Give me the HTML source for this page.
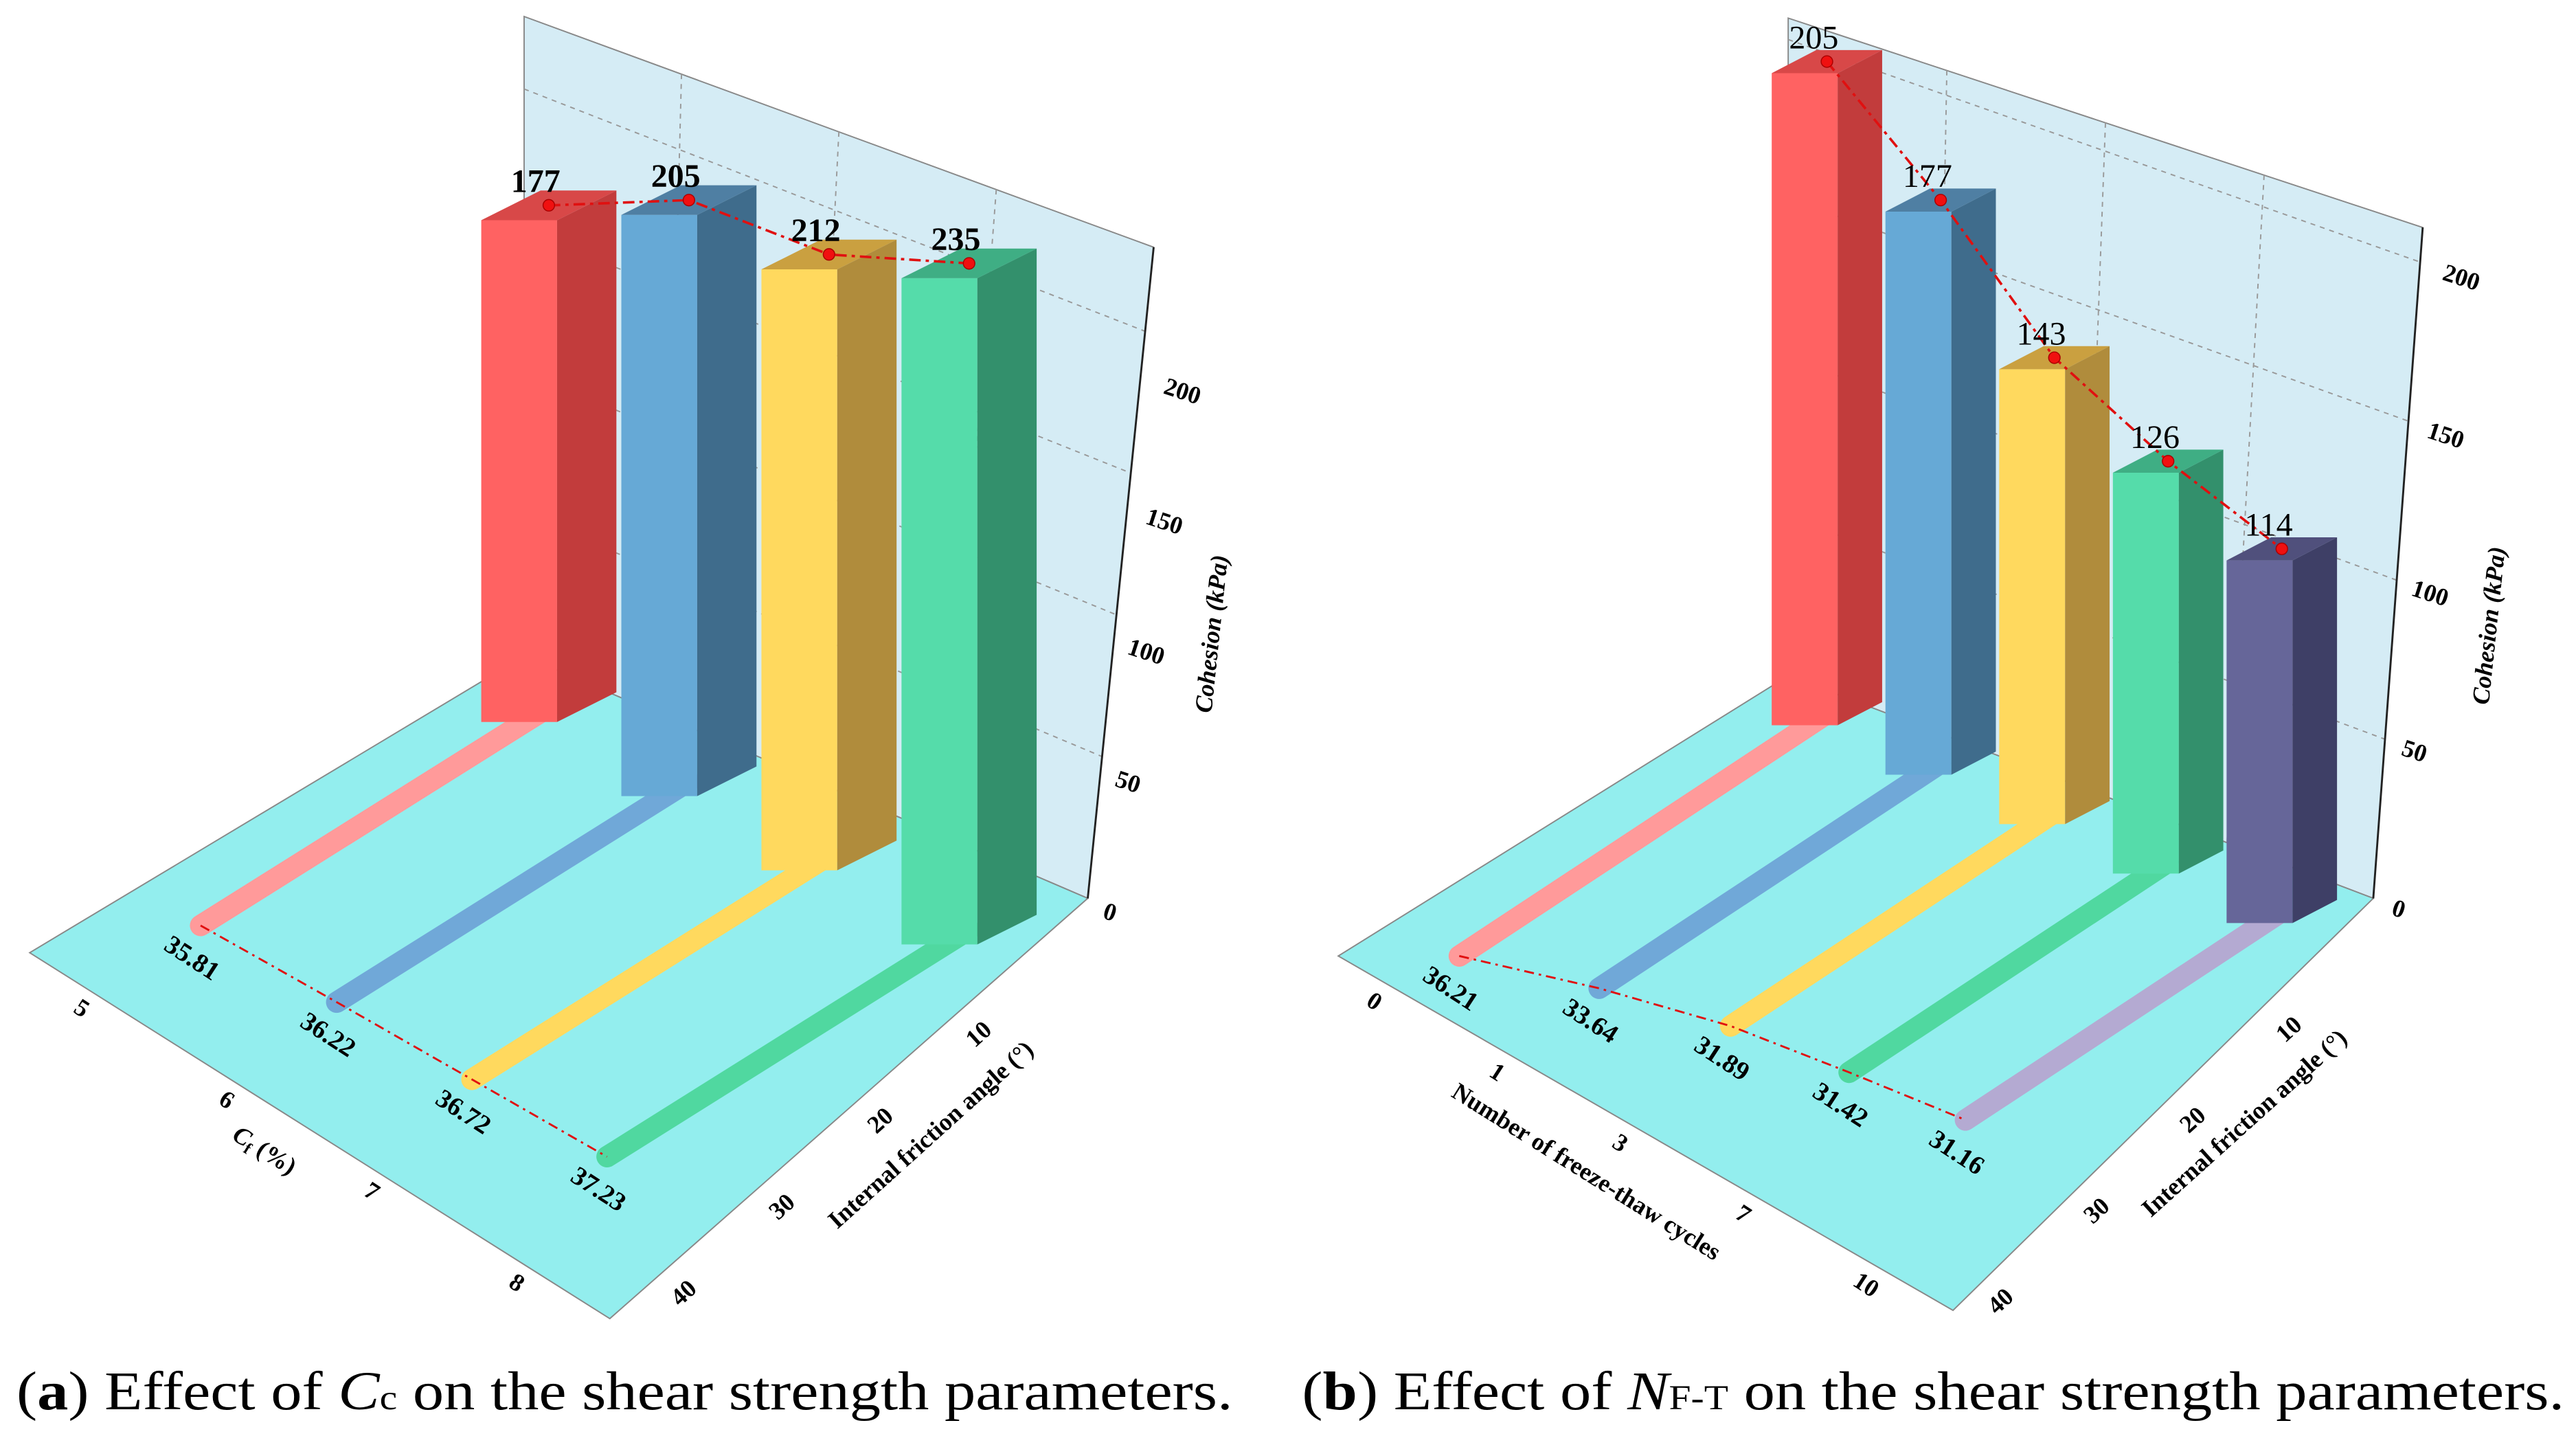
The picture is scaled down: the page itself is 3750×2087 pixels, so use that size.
<!DOCTYPE html>
<html><head><meta charset="utf-8"><style>
html,body{margin:0;padding:0;background:#fff;}
svg{display:block;font-family:"Liberation Serif",serif;}
</style></head><body>
<svg id="chart" width="3750" height="2087" viewBox="0 0 1563 870" preserveAspectRatio="none" xmlns="http://www.w3.org/2000/svg">
<g id="pa"></g>
<g id="pb"></g>
<text x="10" y="855" font-size="33" textLength="738" lengthAdjust="spacingAndGlyphs">(<tspan font-weight="bold">a</tspan>) Effect of <tspan font-style="italic">C</tspan><tspan font-size="21">c</tspan> on the shear strength parameters.</text>
<text x="790" y="855" font-size="33" textLength="766" lengthAdjust="spacingAndGlyphs">(<tspan font-weight="bold">b</tspan>) Effect of <tspan font-style="italic">N</tspan><tspan font-size="21">F-T</tspan> on the shear strength parameters.</text>
</svg>
<script>
const catsA = ["5","6","7","8"];
const cohesionA = [177,205,212,235];
const frictionA = [35.81,36.22,36.72,37.23];
const catsB = ["0","1","3","7","10"];
const cohesionB = [205,177,143,126,114];
const frictionB = [36.21,33.64,31.89,31.42,31.16];
const cohTicks = [0,50,100,150,200];
const fricTicks = [10,20,30,40];

const NS="http://www.w3.org/2000/svg";
function mk(parent,tag,attrs,text){const e=document.createElementNS(NS,tag);for(const k in attrs)e.setAttribute(k,attrs[k]);if(text!==undefined)e.textContent=text;parent.appendChild(e);return e;}
function pts(a){return a.map(p=>p[0].toFixed(1)+","+p[1].toFixed(1)).join(" ");}

const colorsFront=["#ff6262","#66a9d6","#ffd95e","#55dcaa","#666699"];
const colorsSide=["#c23c3c","#3f6c8c","#b08c3c","#33906c","#3e3f66"];
const colorsTop=["#d84848","#4f7fa3","#caa040","#3fae84","#50507c"];
const colorsPipe=["#ff9a9a","#70a8d8","#ffd95e","#50d8a0","#b4aad2"];

function panel(g,cfg,cats,coh,fric){
  let w=mk(g,"polygon",{points:pts(cfg.wall),fill:"#d5ecf5",stroke:"#888","stroke-width":"0.8"});
  
  let f=mk(g,"polygon",{points:pts(cfg.floor),fill:"#93eeee",stroke:"#888","stroke-width":"0.8"});
  
  const wl=cfg.wall;
  cohTicks.forEach(v=>{ if(v===0)return;
    const yl=wl[3][1]-v*cfg.k, yr=wl[2][1]-v*cfg.k;
    const xr=wl[2][0]+(wl[1][0]-wl[2][0])*(v*cfg.k)/(wl[2][1]-wl[1][1]);
    let l=mk(g,"line",{x1:wl[3][0],y1:yl,x2:xr,y2:yr,stroke:"#999","stroke-width":"0.8","stroke-dasharray":"3,3"});
    
  });
  [0.25,0.5,0.75].forEach(t=>{
    const x1=wl[0][0]+(wl[1][0]-wl[0][0])*t,y1=wl[0][1]+(wl[1][1]-wl[0][1])*t;
    const x2=wl[3][0]+(wl[2][0]-wl[3][0])*t,y2=wl[3][1]+(wl[2][1]-wl[3][1])*t;
    let l=mk(g,"line",{x1,y1,x2,y2,stroke:"#999","stroke-width":"0.8","stroke-dasharray":"3,3"});
    
  });
  let ax=mk(g,"line",{x1:wl[2][0],y1:wl[2][1],x2:wl[1][0],y2:wl[1][1],stroke:"#222","stroke-width":"1.2"});
  
  cohTicks.forEach(v=>{
    const x=cfg.cz[0]+v*cfg.cz[2], y=cfg.cz[1]-v*cfg.cz[3];
    let t=mk(g,"text",{x,y,"font-size":"15","font-weight":"bold","text-anchor":"middle",transform:`rotate(18 ${x} ${y})`},String(v));
    
  });
  let ct=mk(g,"text",{x:cfg.cohTitle[0],y:cfg.cohTitle[1],"font-size":"15","font-weight":"bold","font-style":"italic","text-anchor":"middle",transform:`rotate(-84 ${cfg.cohTitle[0]} ${cfg.cohTitle[1]})`},"Cohesion (kPa)");
  
  fricTicks.forEach(v=>{
    const t=(40-v)/30;
    const x=cfg.L40[0]+t*(cfg.L10[0]-cfg.L40[0]), y=cfg.L40[1]+t*(cfg.L10[1]-cfg.L40[1]);
    let e=mk(g,"text",{x,y,"font-size":"15","font-weight":"bold","text-anchor":"middle",transform:`rotate(-42 ${x} ${y})`},String(v));
    
  });
  let ft=mk(g,"text",{x:cfg.fTitle[0],y:cfg.fTitle[1],"font-size":"15","font-weight":"bold","text-anchor":"middle",transform:`rotate(-42 ${cfg.fTitle[0]} ${cfg.fTitle[1]})`},"Internal friction angle (°)");
  
  const n=cats.length, fl=cfg.floor;
  cats.forEach((c,i)=>{
    const t=(i+0.5)/n;
    const x=fl[0][0]+t*(fl[3][0]-fl[0][0])+cfg.catOff[0], y=fl[0][1]+t*(fl[3][1]-fl[0][1])+cfg.catOff[1];
    let e=mk(g,"text",{x,y,"font-size":"15","font-weight":"bold","text-anchor":"middle",transform:`rotate(33 ${x} ${y})`},c);
    
  });
  let catT=mk(g,"text",{x:cfg.catTitle[0],y:cfg.catTitle[1],"font-size":"15","font-weight":"bold","text-anchor":"middle",transform:`rotate(32 ${cfg.catTitle[0]} ${cfg.catTitle[1]})`});
  
  if(cfg.catIsCf){mk(catT,"tspan",{"font-style":"italic"},"C");mk(catT,"tspan",{"font-size":"10",dy:"3"},"f");mk(catT,"tspan",{dy:"-3"}," (%)");}
  else catT.textContent="Number of freeze-thaw cycles";

  const base=i=>[cfg.O[0]+i*cfg.U[0],cfg.O[1]+i*cfg.U[1]];
  const pipeStart=i=>{const b=base(i);return [b[0]+cfg.bw/2+cfg.D[0]/2,b[1]+cfg.D[1]/2];};
  const pipeEnd=i=>{const s=pipeStart(i);return [s[0]+fric[i]*cfg.V[0],s[1]+fric[i]*cfg.V[1]];};
  coh.forEach((v,i)=>{
    const s=pipeStart(i),e=pipeEnd(i);
    let p=mk(g,"line",{x1:s[0],y1:s[1],x2:e[0],y2:e[1],stroke:colorsPipe[i],"stroke-width":cfg.pw,"stroke-linecap":"round"});
    
  });
  let fpl=mk(g,"polyline",{points:pts(coh.map((v,i)=>pipeEnd(i))),fill:"none",stroke:"#e01010","stroke-width":"1.2","stroke-dasharray":"6,3,1.5,3"});
  
  coh.forEach((v,i)=>{
    const e=pipeEnd(i);const x=e[0]-8,y=e[1]+24;
    let t=mk(g,"text",{x,y,"font-size":"16","font-weight":"bold","text-anchor":"middle",transform:`rotate(33 ${x} ${y})`},fric[i].toFixed(2));
    
  });
  const tops=[];
  coh.forEach((v,i)=>{
    const b=base(i),h=v*cfg.k,w=cfg.bw,D=cfg.D;
    const bg=mk(g,"g",{});
    mk(bg,"polygon",{points:pts([[b[0],b[1]-h],[b[0]+w,b[1]-h],[b[0]+w,b[1]],[b[0],b[1]]]),fill:colorsFront[i]});
    mk(bg,"polygon",{points:pts([[b[0]+w,b[1]-h],[b[0]+w+D[0],b[1]-h+D[1]],[b[0]+w+D[0],b[1]+D[1]],[b[0]+w,b[1]]]),fill:colorsSide[i]});
    mk(bg,"polygon",{points:pts([[b[0],b[1]-h],[b[0]+D[0],b[1]-h+D[1]],[b[0]+w+D[0],b[1]-h+D[1]],[b[0]+w,b[1]-h]]),fill:colorsTop[i]});
    tops.push([b[0]+w/2+D[0]/2,b[1]-h+D[1]/2]);
  });
  let cl=mk(g,"polyline",{points:pts(tops),fill:"none",stroke:"#e01010","stroke-width":"1.5","stroke-dasharray":"7,3,2,3"});
  
  tops.forEach((p,i)=>{
    let c=mk(g,"circle",{cx:p[0],cy:p[1],r:"3.5",fill:"#f01010",stroke:"#a00","stroke-width":"0.6"});
    
    let t=mk(g,"text",{x:p[0]-8,y:p[1]-8,"font-size":"20","font-weight":cfg.valBold?"bold":"normal","text-anchor":"middle"},String(coh[i]));
    
  });
}

panel(document.getElementById("pa"),{
  wall:[[318,10],[700,150],[660,545],[318,398]],
  floor:[[18,578],[318,398],[660,545],[370,800]],
  k:1.72,O:[292,438],U:[85,45],bw:46,D:[36,-18],V:[-5.9,3.7],pw:13,
  cz:[672,558,0.22,1.58],cohTitle:[740,385],L40:[418,788],L10:[597,631],fTitle:[568,692],
  catOff:[-15,10],catTitle:[158,702],catIsCf:true,valBold:true
},catsA,cohesionA,frictionA);

panel(document.getElementById("pb"),{
  wall:[[1085,11],[1470,138],[1440,545],[1085,410]],
  floor:[[812,580],[1085,410],[1440,545],[1185,795]],
  k:1.93,O:[1075,440],U:[69,30],bw:40,D:[27,-14],V:[-6.16,4.06],pw:13,
  cz:[1454,556,0.19,1.915],cohTitle:[1515,380],L40:[1217,793],L10:[1392,628],fTitle:[1365,685],
  catOff:[-18,10],catTitle:[960,715],catIsCf:false,valBold:false
},catsB,cohesionB,frictionB);
</script>
</body></html>
